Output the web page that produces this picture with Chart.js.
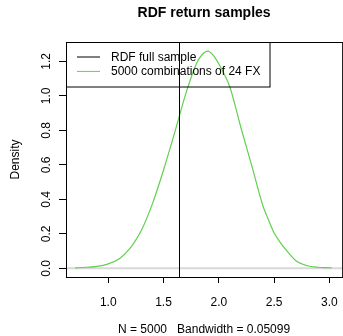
<!DOCTYPE html>
<html>
<head>
<meta charset="utf-8">
<script src="https://cdn.jsdelivr.net/npm/chart.js@4.4.1/dist/chart.umd.min.js"></script>
<style>
  html, body { margin: 0; padding: 0; overflow: hidden; background: #fff; }
  canvas { display: block; }
</style>
</head>
<body>
<canvas id="densityChart" width="350" height="336"></canvas>
<script>
// density estimate of the 5000 combinations
const xVals   = [0.70, 0.80, 0.90, 1.00, 1.10, 1.20, 1.25, 1.30, 1.40, 1.50, 1.60, 1.70, 1.80, 1.85, 1.90, 1.95, 2.00, 2.10, 2.20, 2.30, 2.40, 2.45, 2.50, 2.55, 2.60, 2.65, 2.70, 2.80, 2.90, 3.00, 3.02];
const density = [0.002, 0.006, 0.011, 0.026, 0.055, 0.118, 0.165, 0.220, 0.375, 0.570, 0.785, 1.010, 1.190, 1.240, 1.260, 1.235, 1.185, 1.050, 0.815, 0.590, 0.360, 0.280, 0.205, 0.155, 0.112, 0.075, 0.042, 0.015, 0.006, 0.003, 0.002];
const fullSample = 1.64;
const xTicks = [1.0, 1.5, 2.0, 2.5, 3.0];
const yTicks = [0.0, 0.2, 0.4, 0.6, 0.8, 1.0, 1.2];
const legendLabels = ['RDF full sample', '5000 combinations of 24 FX'];
const legendColors = ['#000000', '#61D04F'];
const titleText = 'RDF return samples';
const subText = 'N = 5000   Bandwidth = 0.05099';
const yTitle = 'Density';

const FONT = '"Liberation Sans", Arial, Helvetica, sans-serif';

const rPlot = {
  id: 'rPlot',
  beforeDatasetsDraw(chart) {
    const { ctx, chartArea: a, scales: { y } } = chart;
    ctx.save();
    // gray zero line
    const y0 = y.getPixelForValue(0);
    ctx.strokeStyle = '#d8d8d8';
    ctx.lineWidth = 2;
    ctx.beginPath();
    ctx.moveTo(a.left, y0);
    ctx.lineTo(a.right, y0);
    ctx.stroke();
    ctx.restore();
  },
  afterDraw(chart) {
    const { ctx, chartArea: a, scales: { x, y } } = chart;
    ctx.save();
    ctx.strokeStyle = '#000';
    ctx.lineWidth = 1;

    // full sample vertical line
    const vx = Math.round(x.getPixelForValue(fullSample)) + 0.5;
    ctx.beginPath();
    ctx.moveTo(vx, a.top);
    ctx.lineTo(vx, a.bottom);
    ctx.stroke();

    // box
    ctx.strokeRect(Math.round(a.left) + 0.5, Math.round(a.top) + 0.5, a.right - a.left, a.bottom - a.top);

    // legend
    const lx = Math.round(a.left) + 0.5, ly = Math.round(a.top) + 0.5;
    ctx.strokeRect(lx, ly, 203.5, 44.5);
    ctx.font = '12px ' + FONT;
    ctx.textAlign = 'left';
    ctx.textBaseline = 'middle';
    legendLabels.forEach((lab, i) => {
      const yy = ly + 14.5 + i * 14.4;
      ctx.strokeStyle = legendColors[i];
      ctx.beginPath();
      ctx.moveTo(lx + 10.5, yy);
      ctx.lineTo(lx + 33.5, yy);
      ctx.stroke();
      ctx.fillStyle = '#000';
      ctx.fillText(lab, lx + 44.5, yy + 0.5);
    });

    // y tick labels, rotated like R
    ctx.fillStyle = '#000';
    ctx.textAlign = 'center';
    ctx.textBaseline = 'alphabetic';
    yTicks.forEach(v => {
      const py = y.getPixelForValue(v);
      ctx.save();
      ctx.translate(49.5, py);
      ctx.rotate(-Math.PI / 2);
      ctx.fillText(v.toFixed(1), 0, 0);
      ctx.restore();
    });

    // y axis title
    ctx.save();
    ctx.translate(19, (a.top + a.bottom) / 2);
    ctx.rotate(-Math.PI / 2);
    ctx.fillText(yTitle, 0, 0);
    ctx.restore();

    // title and sub
    const cx = (a.left + a.right) / 2;
    ctx.font = 'bold 14px ' + FONT;
    ctx.textBaseline = 'middle';
    ctx.fillText(titleText, cx, 13);
    ctx.font = '12px ' + FONT;
    ctx.fillText(subText, cx, 330);
    ctx.restore();
  }
};

new Chart(document.getElementById('densityChart'), {
  type: 'line',
  data: {
    datasets: [{
      label: legendLabels[1],
      data: xVals.map((v, i) => ({ x: v, y: density[i] })),
      borderColor: legendColors[1],
      borderWidth: 1.2,
      pointRadius: 0,
      cubicInterpolationMode: 'monotone',
      fill: false
    }]
  },
  options: {
    responsive: false,
    animation: false,
    layout: { padding: { top: 42, right: 5, left: 0, bottom: 0 } },
    plugins: {
      legend: { display: false },
      title: { display: false },
      tooltip: { enabled: false }
    },
    scales: {
      x: {
        type: 'linear',
        min: 0.618,
        max: 3.115,
        afterBuildTicks: s => { s.ticks = xTicks.map(v => ({ value: v })); },
        afterFit: s => { s.height = 59; },
        grid: { drawOnChartArea: false, drawTicks: true, tickLength: 6, color: '#000', lineWidth: 1 },
        border: { display: true, color: '#000' },
        ticks: {
          padding: 12,
          color: '#000',
          font: { family: FONT, size: 12 },
          callback: v => v.toFixed(1),
          maxRotation: 0
        }
      },
      y: {
        min: -0.0505,
        max: 1.3125,
        afterBuildTicks: s => { s.ticks = yTicks.map(v => ({ value: v })); },
        afterFit: s => { s.width = 66; },
        grid: { drawOnChartArea: false, drawTicks: true, tickLength: 7, color: '#000', lineWidth: 1 },
        border: { display: true, color: '#000' },
        ticks: { display: false }
      }
    }
  },
  plugins: [rPlot]
});
</script>
</body>
</html>
